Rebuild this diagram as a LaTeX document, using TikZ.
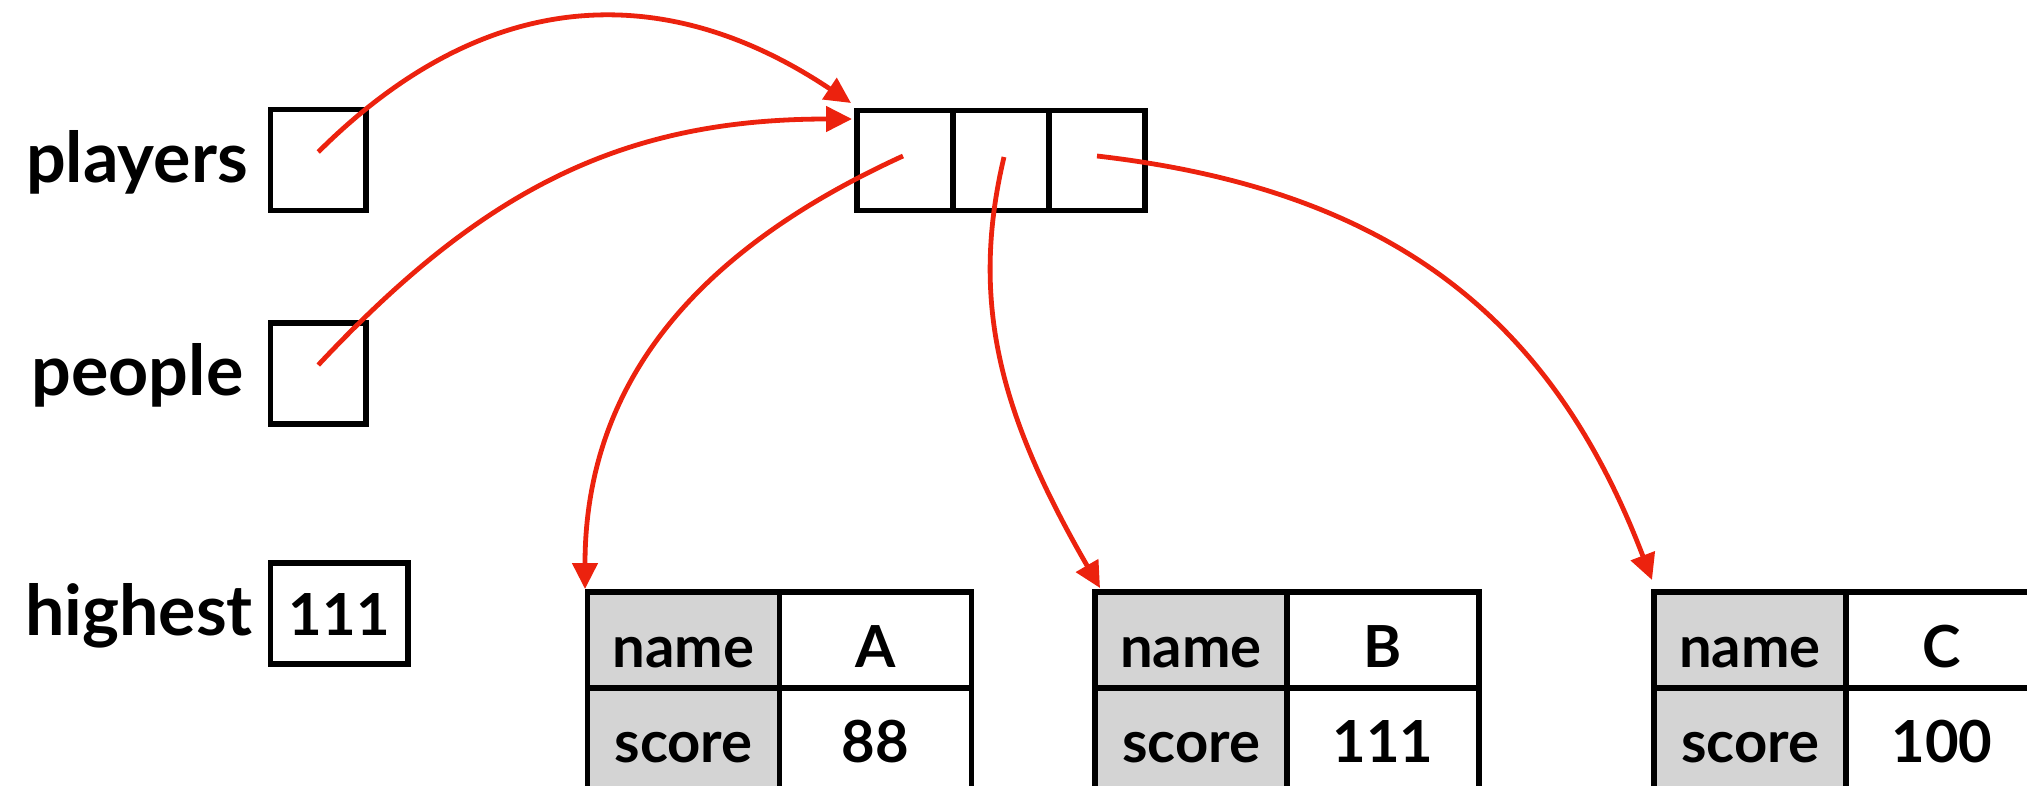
\documentclass[tikz,border=0pt]{standalone}
\usepackage{fontspec}
\setmainfont{Lato}
\usetikzlibrary{arrows.meta}
\definecolor{ptrred}{RGB}{236,34,14}
\definecolor{cellgray}{RGB}{212,212,212}
\begin{document}
\begin{tikzpicture}[x=1pt,y=-1pt,
  every node/.style={font=\fontsize{58}{66}\selectfont\bfseries},
  box/.style={draw=black, line width=5.2pt, outer sep=0pt, inner sep=0pt},
  varbox/.style={box, minimum width=95.5pt, minimum height=101pt},
  widebox/.style={box, minimum width=137.5pt, minimum height=101pt, text height=43pt, text depth=0pt},
  cellbox/.style={box, minimum width=96pt, minimum height=100pt},
  rowone/.style={box, minimum width=192pt, minimum height=96pt, text height=54pt, text depth=0pt},
  rowtwo/.style={box, minimum width=192pt, minimum height=104pt, text height=44pt, text depth=0pt},
  keycell/.style={fill=cellgray},
  varlabel/.style={anchor=base, inner sep=0pt, font=\fontsize{70}{78}\selectfont\bfseries},
  link/.style={draw=ptrred, line width=4.8pt, -{Triangle[length=26pt,width=25pt]}}
]
\useasboundingbox (0,0) rectangle (2027,785);

% variables
\node[varlabel] (lpl) at (137,182) {players};
\node[varlabel] (lpe) at (137.5,395) {people};
\node[varlabel] (lhi) at (139,635) {highest};
\node[varbox] (pl) at (318.25,160) {};
\node[varbox] (pe) at (318.25,373.5) {};
\node[widebox] (hi) at (339.25,613.5) {111};

% array
\node[cellbox] (arr1) at (905,160.5) {};
\node[cellbox] (arr2) at (1001,160.5) {};
\node[cellbox] (arr3) at (1097,160.5) {};

% table A
\node[rowone,keycell] (ta1) at (683.5,640) {name};
\node[rowone] (ta2) at (875.5,640) {A};
\node[rowtwo,keycell] (ta3) at (683.5,740) {score};
\node[rowtwo] (ta4) at (875.5,740) {88};
% table B
\node[rowone,keycell] (tb1) at (1191,640) {name};
\node[rowone] (tb2) at (1383,640) {B};
\node[rowtwo,keycell] (tb3) at (1191,740) {score};
\node[rowtwo] (tb4) at (1383,740) {111};
% table C
\node[rowone,keycell] (tc1) at (1750,640) {name};
\node[rowone] (tc2) at (1942,640) {C};
\node[rowtwo,keycell] (tc3) at (1750,740) {score};
\node[rowtwo] (tc4) at (1942,740) {100};

% pointers
\draw[link] ([yshift=8pt]pl.center) .. controls (499,-28) and (681,-11) .. ([xshift=-6pt,yshift=7.5pt]arr1.north west);
\draw[link] ([yshift=8.5pt]pe.center) .. controls (482,190) and (622,119) .. ([xshift=-5pt,yshift=-8.5pt]arr1.north west);
\draw[link] ([xshift=-2pt,yshift=4.5pt]arr1.center) .. controls (728,236) and (585,359) .. ([xshift=-2.5pt,yshift=3pt]ta1.north west);
\draw[link] ([xshift=3pt,yshift=3.5pt]arr2.center) .. controls (969.5,302.5) and (1000,415) .. ([xshift=5pt,yshift=4pt]tb1.north west);
\draw[link] ([yshift=4.5pt]arr3.center) .. controls (1392,190) and (1552,318) .. ([xshift=-2pt,yshift=12pt]tc1.north west);
\end{tikzpicture}
\end{document}
